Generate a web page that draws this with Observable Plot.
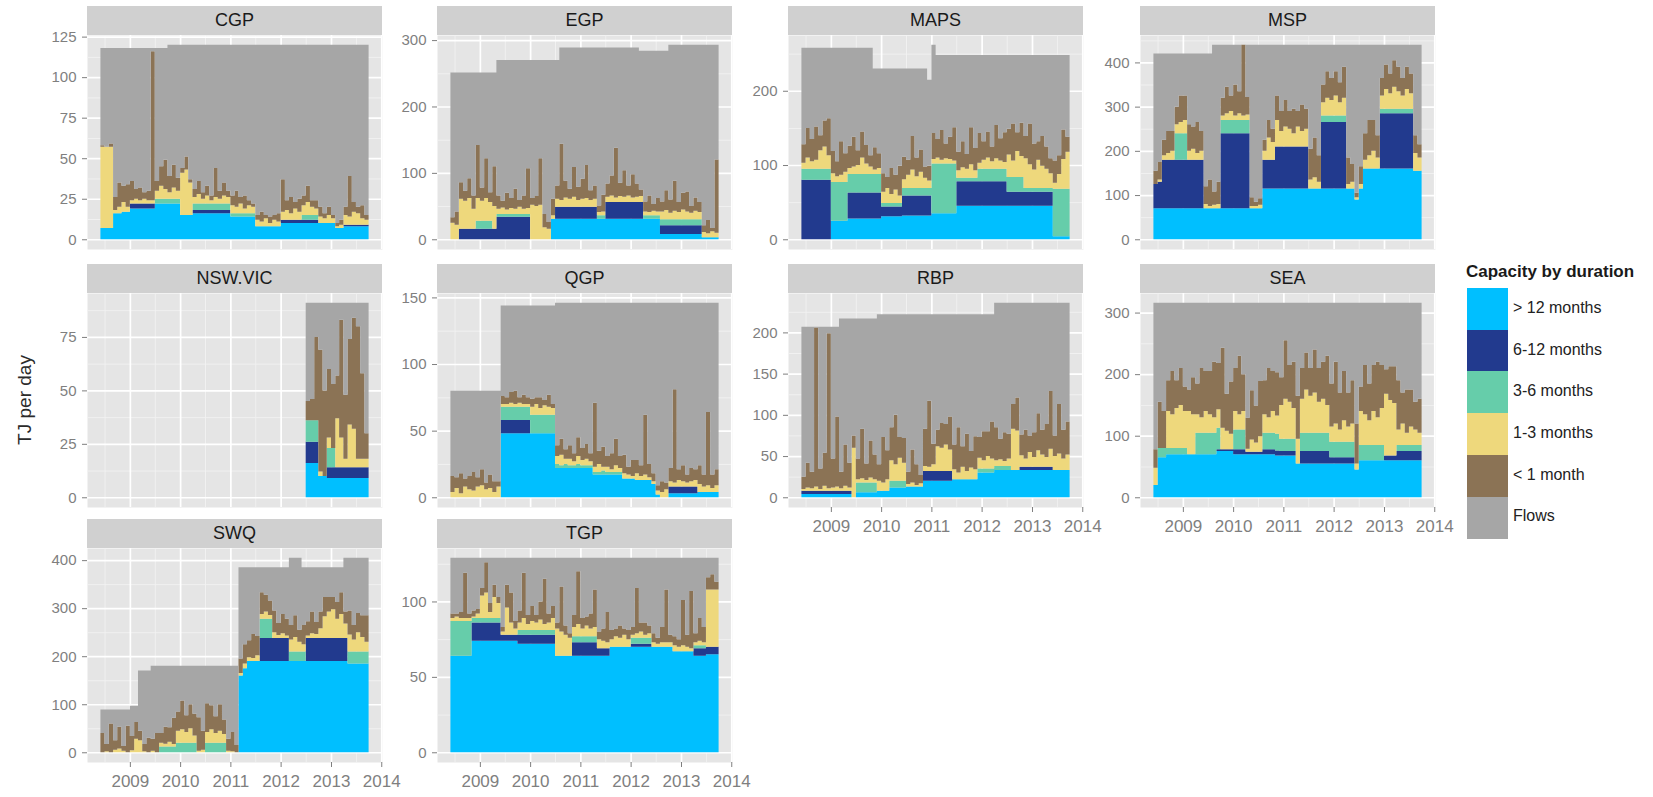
<!DOCTYPE html>
<html><head><meta charset="utf-8">
<script src="https://cdn.jsdelivr.net/npm/d3@7"></script>
<script src="https://cdn.jsdelivr.net/npm/@observablehq/plot@0.6"></script>
<style>
body{margin:0;background:#fff;font-family:"Liberation Sans",Arial,sans-serif;}
#chart{position:relative;width:1653px;height:797px;overflow:hidden;background:#fff;}
.panel{position:absolute;}
.strip{position:absolute;background:#D0D0D0;color:#1A1A1A;font-size:18px;text-align:center;}
.lkey{position:absolute;width:41px;}
.llab{position:absolute;font-size:16px;color:#222;}
</style></head><body><div id="chart"></div>
<script>
// ---------- data ----------
const categories = ["> 12 months","6-12 months","3-6 months","1-3 months","< 1 month","Flows"];
const colors = ["#00BFFF","#223A8E","#66CDAA","#EED87C","#8B7355","#A6A6A6"];
const xTickYears = [2009,2010,2011,2012,2013,2014];
// monthly values from June 2008 (index 0) to Sept 2013 (index 63)

const cgp_yticks = [0,25,50,75,100,125];
const cgp_cap = [118,118,118,118,118,118,118,118, 118,118,118,118,118,118,118,118, 120,120,120,120,120,120,120,120, 120,120,120,120,120,120,120,120, 120,120,120,120,120,120,120,120, 120,120,120,120,120,120,120,120, 120,120,120,120,120,120,120,120, 120,120,120,120,120,120,120,120];
const cgp_gt12 = [7,7,7,16,16,17,17,19, 19,19,19,19,19,22,22,22, 22,22,22,15,15,15,16,16, 16,16,16,16,16,16,16,14, 14,14,14,14,14,8,8,8, 8,8,8,10,10,10,10,10, 10,10,10,10,10,10,10,10, 7,7,8,8,8,8,8,8];
const cgp_m6_12 = [0,0,0,0,0,0,0,3, 3,3,3,3,3,0,0,0, 0,0,0,0,0,0,2,2, 2,2,2,2,2,2,2,0, 0,0,0,0,0,0,0,0, 0,0,0,2,2,2,2,2, 2,2,2,2,0,0,0,0, 0,0,1,1,1,1,1,1];
const cgp_m3_6 = [0,0,0,0,0,0,0,0, 0,0,0,0,0,3,3,3, 3,3,3,0,0,0,4,4, 4,4,4,4,4,4,4,2, 2,2,2,2,2,0,0,0, 0,0,0,0,0,0,0,0, 3,3,3,3,0,0,0,0, 0,0,0,0,0,0,0,0];
const cgp_m1_3 = [50,50,50,2,4,6,3,2, 3,2,3,2,2,5,8,6, 4,7,5,26,28,20,4,6, 3,5,2,4,3,5,4,5, 4,6,3,5,4,4,3,5, 2,4,3,5,6,4,7,5, 6,8,5,4,4,3,5,3, 1,2,6,5,8,7,4,3];
const cgp_lt1 = [1,0,2,8,15,10,14,12, 6,8,4,6,92,6,12,18, 10,14,8,3,8,2,5,8, 4,6,3,18,5,8,4,6, 10,4,8,3,2,3,6,2, 4,3,5,20,6,10,4,8, 6,10,4,5,6,3,5,2, 2,3,5,25,6,4,8,3];

const egp_yticks = [0,100,200,300];
const egp_cap = [251,251,251,251,251,251,251,251, 251,251,251,270,270,270,270,270, 270,270,270,270,270,270,270,270, 270,270,289,289,289,289,289,289, 289,289,289,289,289,289,289,289, 289,289,289,289,289,284,284,284, 284,284,284,284,293,293,293,293, 293,293,293,293,293,293,293,293];
const egp_gt12 = [0,0,0,0,0,0,0,0, 0,0,0,0,0,0,0,0, 0,0,0,0,0,0,0,0, 31,31,31,31,31,31,31,31, 31,31,31,31,31,31,31,31, 31,31,31,31,31,31,31,31, 31,31,8,8,8,8,8,8, 8,8,8,8,3,3,3,3];
const egp_m6_12 = [0,0,16,16,16,16,16,16, 16,16,16,34,34,34,34,34, 34,34,34,0,0,0,0,0, 0,18,18,18,18,18,18,18, 18,18,18,0,0,25,25,25, 25,25,25,25,25,25,0,0, 0,0,13,13,13,13,13,13, 13,13,13,13,0,0,0,0];
const egp_m3_6 = [0,0,0,0,0,0,12,12, 12,12,0,4,4,4,4,4, 4,4,4,0,0,0,0,0, 0,0,0,0,0,0,0,0, 0,0,0,5,5,0,0,0, 0,0,0,0,0,0,5,5, 5,5,9,9,9,9,9,9, 9,9,9,9,0,0,0,0];
const egp_m1_3 = [25,22,45,42,46,30,34,30, 34,28,34,8,10,7,9,8, 11,8,9,52,50,52,18,16, 5,12,10,14,12,15,10,12, 13,10,12,5,6,8,10,7, 9,8,10,7,8,9,6,5, 7,6,12,14,10,13,11,15, 12,10,13,11,8,6,9,7];
const egp_lt1 = [8,20,25,15,30,20,80,20, 60,15,60,20,10,25,15,30, 10,20,60,10,15,70,20,10, 25,20,85,25,15,45,20,30, 50,15,20,10,25,20,30,75, 20,40,15,35,20,10,15,25, 10,20,15,30,20,45,15,25, 30,10,20,15,10,20,5,110];

const maps_yticks = [0,100,200];
const maps_cap = [258,258,258,258,258,258,258,258, 258,258,258,258,258,258,258,258, 258,230,230,230,230,230,230,230, 230,230,230,230,230,230,215,262, 248,248,248,248,248,248,248,248, 248,248,248,248,248,248,248,248, 248,248,248,248,248,248,248,248, 248,248,248,248,248,248,248,248];
const maps_gt12 = [0,0,0,0,0,0,0,25, 25,25,25,28,28,28,28,28, 28,28,28,31,31,31,31,31, 32,32,32,32,32,32,32,35, 35,35,35,35,35,45,45,45, 45,45,45,45,45,45,45,45, 45,45,45,45,45,45,45,45, 45,45,45,45,4,4,4,4];
const maps_m6_12 = [80,80,80,80,80,80,80,0, 0,0,0,35,35,35,35,35, 35,35,35,13,13,13,13,13, 27,27,27,27,27,27,27,0, 0,0,0,0,0,33,33,33, 33,33,33,33,33,33,33,33, 33,19,19,19,19,19,19,19, 19,19,19,19,0,0,0,0];
const maps_m3_6 = [15,15,15,15,15,15,15,52, 52,52,52,25,25,25,25,25, 25,25,25,5,5,5,5,5, 10,10,10,10,10,10,10,67, 67,67,67,67,67,5,5,5, 5,5,17,17,17,17,17,17, 17,20,20,20,20,5,5,5, 5,5,5,5,64,64,64,64];
const maps_m1_3 = [8,15,10,12,25,30,18,12, 8,10,14,8,10,12,22,14, 10,6,8,15,20,12,18,10, 12,18,25,16,22,14,10,6, 8,5,7,6,4,10,14,12, 18,10,8,12,15,10,14,11, 9,30,22,35,28,40,32,25, 38,30,26,20,8,20,40,50];
const maps_lt1 = [25,40,30,45,20,35,50,30, 20,45,25,30,40,20,35,25, 15,30,20,25,15,35,20,40, 30,20,45,25,30,15,20,35, 25,40,20,30,45,25,35,20, 50,30,40,25,35,20,45,30, 40,35,50,25,45,30,55,35, 25,40,30,20,30,25,40,20];

const msp_yticks = [0,100,200,300,400];
const msp_cap = [420,420,420,420,420,420,420,420, 420,420,420,420,420,420,440,440, 440,440,440,440,440,440,440,440, 440,440,440,440,440,440,440,440, 440,440,440,440,440,440,440,440, 440,440,440,440,440,440,440,440, 440,440,440,440,440,440,440,440, 440,440,440,440,440,440,440,440];
const msp_gt12 = [70,70,70,70,70,70,70,70, 70,70,70,70,70,70,70,70, 70,70,70,70,70,70,70,70, 70,70,115,115,115,115,115,115, 115,115,115,115,115,115,115,115, 115,115,115,115,115,115,115,115, 90,115,160,160,160,160,160,160, 160,160,160,160,160,160,155,155];
const msp_m6_12 = [55,60,110,110,110,110,110,110, 110,110,110,110,0,0,0,0, 170,170,170,170,170,170,170,0, 0,0,65,65,65,95,95,95, 95,95,95,95,95,0,0,0, 150,150,150,150,150,150,0,0, 0,0,0,0,0,0,125,125, 125,125,125,125,125,125,0,0];
const msp_m3_6 = [0,0,0,0,0,60,60,60, 0,0,0,0,0,0,0,0, 30,30,30,30,30,30,30,0, 0,0,0,0,0,0,0,0, 0,0,0,0,0,0,0,0, 15,15,15,15,15,15,0,0, 0,0,0,0,0,0,10,10, 10,10,10,10,10,10,0,0];
const msp_m1_3 = [0,5,10,15,20,20,25,30, 20,25,15,20,10,5,8,10, 10,15,20,10,15,10,12,5, 5,8,20,50,40,60,35,45, 40,30,45,35,40,20,25,15, 30,40,35,45,30,40,10,15, 5,10,20,30,40,25,30,45, 35,50,40,30,45,35,40,30];
const msp_lt1 = [30,40,35,50,45,40,60,55, 60,50,70,45,40,60,30,50, 40,60,35,70,50,160,40,20, 10,15,25,40,30,55,45,60, 40,55,35,60,45,70,90,60, 40,60,50,55,45,70,60,40, 10,40,60,80,70,50,40,55, 45,60,55,40,50,45,40,30];

// NSW.VIC starts December 2012? no: starts at index 49 (July 2012)
const nsw_yticks = [0,25,50,75];
const nsw_cap = [91,91,91,91,91,91,91,91,91,91,91,91,91,91,91];
const nsw_gt12 = [16,16,16,10,10,9,9,9,9,9,9,9,9,9,9];
const nsw_m6_12 = [10,10,10,0,0,5,5,5,5,5,5,5,5,5,5];
const nsw_m3_6 = [10,10,10,0,0,9,9,0,0,0,0,0,0,0,0];
const nsw_m1_3 = [0,0,0,2,0,5,0,23,14,4,20,18,4,4,4];
const nsw_lt1 = [9,10,39,57,40,32,30,20,55,30,40,52,62,40,12];

const qgp_yticks = [0,50,100,150];
const qgp_cap = [80,80,80,80,80,80,80,80, 80,80,80,80,144,144,144,144, 144,144,144,144,144,144,144,144, 144,146,146,146,146,146,146,146, 146,146,146,146,146,146,146,146, 146,146,146,146,146,146,146,146, 146,146,146,146,146,146,146,146, 146,146,146,146,146,146,146,146];
const qgp_gt12 = [0,0,0,0,0,0,0,0, 0,0,0,0,48,48,48,48, 48,48,48,48,48,48,48,48, 48,22,22,22,22,22,22,22, 22,22,17,17,17,17,17,17, 17,14,14,14,13,13,13,13, 10,2,0,0,3,3,3,3, 3,3,3,4,4,4,4,4];
const qgp_m6_12 = [0,0,0,0,0,0,0,0, 0,0,0,0,10,10,10,10, 10,10,10,0,0,0,0,0, 0,0,0,0,0,0,0,0, 0,0,0,0,0,0,0,0, 0,0,0,0,0,0,0,0, 0,0,0,0,5,5,5,5, 5,5,5,0,0,0,0,0];
const qgp_m3_6 = [0,0,0,0,0,0,0,0, 0,0,0,0,10,10,10,10, 10,10,10,14,14,14,14,14, 14,3,2,3,2,2,3,2, 2,2,2,2,3,2,2,2, 2,0,0,0,0,0,0,0, 0,0,0,0,0,0,0,0, 0,0,0,0,0,0,0,0];
const qgp_m1_3 = [4,7,3,8,6,5,8,9, 6,7,4,8,2,2,3,2, 3,2,2,6,8,5,7,6, 5,6,8,4,5,3,6,4, 5,3,4,6,3,4,2,5, 3,4,3,2,5,3,4,2, 2,3,4,6,4,3,5,4, 3,4,5,6,4,5,3,5];
const qgp_lt1 = [12,8,15,6,10,14,7,12, 5,10,8,4,6,5,8,10, 4,7,5,6,5,8,4,9, 3,8,12,7,10,6,14,9, 11,6,48,10,15,8,12,20, 9,14,6,12,10,8,45,10, 6,4,8,5,10,70,8,12, 6,10,8,14,9,55,10,12];

const rbp_yticks = [0,50,100,150,200];
const rbp_cap = [207,207,207,207,207,207,207,207, 207,217,217,217,217,217,217,217, 217,217,222,222,222,222,222,222, 222,222,222,222,222,222,222,222, 222,222,222,222,222,222,222,222, 222,222,222,222,222,222,236,236, 236,236,236,236,236,236,236,236, 236,236,236,236,236,236,236,236];
const rbp_gt12 = [4,4,4,4,4,4,4,4, 4,4,4,4,0,6,6,6, 6,6,8,8,8,12,12,12, 12,13,13,13,13,20,20,20, 20,20,20,20,22,22,22,22, 22,22,30,30,30,30,33,33, 33,33,33,33,33,33,33,33, 33,33,33,33,33,33,33,33];
const rbp_m6_12 = [4,4,4,4,4,4,4,4, 4,4,4,4,0,0,0,0, 0,0,0,0,0,0,0,0, 0,0,0,0,0,12,12,12, 12,12,12,12,0,0,0,0, 0,0,0,0,0,0,0,0, 0,0,0,0,4,4,4,4, 4,4,4,4,0,0,0,0];
const rbp_m3_6 = [0,0,0,0,0,0,0,0, 0,0,0,0,0,12,12,12, 12,12,0,0,0,8,8,8, 8,0,0,0,0,0,0,0, 0,0,0,0,0,0,0,0, 0,0,5,5,5,5,5,5, 5,5,0,0,0,0,0,0, 0,0,0,0,0,0,0,0];
const rbp_m1_3 = [2,4,3,5,2,6,3,4, 5,3,6,4,60,4,5,3, 6,4,12,10,14,25,20,28, 22,3,5,2,4,6,5,8, 30,28,32,26,12,8,15,10, 14,12,13,10,15,12,7,8, 6,9,50,48,14,10,18,12, 20,15,12,22,17,20,14,19];
const rbp_lt1 = [15,30,20,193,25,40,188,35, 85,20,50,30,15,25,60,20, 45,30,20,55,35,40,60,25, 30,15,40,25,10,45,80,25, 20,30,25,40,30,55,25,45, 20,40,25,35,30,45,40,25, 35,30,30,40,25,35,20,30, 45,30,40,70,25,60,35,40];

const sea_yticks = [0,100,200,300];
const sea_cap = [316,316,316,316,316,316,316,316, 316,316,316,316,316,316,316,316, 316,316,316,316,316,316,316,316, 316,316,316,316,316,316,316,316, 316,316,316,316,316,316,316,316, 316,316,316,316,316,316,316,316, 316,316,316,316,316,316,316,316, 316,316,316,316,316,316,316,316];
const sea_gt12 = [20,65,65,70,70,70,70,70, 70,70,70,70,70,70,70,75, 75,75,75,70,70,70,70,70, 70,70,70,70,70,68,68,68, 68,68,55,55,55,55,55,55, 55,55,55,55,55,55,55,55, 45,60,60,60,60,60,60,60, 60,60,60,60,60,60,60,60];
const sea_m6_12 = [0,0,0,0,0,0,0,0, 0,0,0,0,0,0,0,3, 3,3,3,8,8,8,4,4, 4,4,8,8,8,8,7,7, 7,7,0,20,20,20,20,20, 20,20,10,10,10,10,10,10, 0,0,0,0,0,0,0,8, 8,8,15,15,15,15,15,15];
const sea_m3_6 = [0,15,15,10,10,10,10,10, 0,0,35,35,35,35,35,35, 0,0,0,32,32,32,0,0, 0,0,27,27,27,27,20,20, 20,20,0,30,30,30,30,30, 30,30,25,25,25,25,25,25, 0,25,25,25,25,25,25,0, 0,0,10,10,10,10,10,10];
const sea_m1_3 = [28,0,0,60,55,65,70,60, 70,65,30,25,35,30,25,30, 35,30,25,30,25,30,5,20, 15,25,30,25,35,30,55,65, 60,50,40,55,70,60,65,50, 55,45,25,30,20,35,25,30, 10,55,50,40,55,45,60,100, 90,85,25,35,20,30,25,20];
const sea_lt1 = [30,75,60,50,70,45,60,40, 35,60,50,80,65,70,90,75, 130,60,85,70,95,60,50,80, 60,90,55,80,65,70,45,95, 60,75,70,50,60,45,70,55, 60,80,70,100,60,80,55,70, 65,40,80,60,75,90,70,40, 55,60,80,50,70,60,45,55];

const swq_yticks = [0,100,200,300,400];
const swq_cap = [89,89,89,89,89,89,89,97, 97,170,170,170,180,180,180,180, 180,180,180,180,180,180,180,180, 180,180,180,180,180,180,180,180, 180,385,385,385,385,385,385,385, 385,385,385,385,385,405,405,405, 385,385,385,385,385,385,385,385, 385,385,405,405,405,405,405,405];
const swq_gt12 = [0,0,0,0,0,0,0,0, 0,0,0,0,0,0,0,0, 0,0,0,0,0,0,0,0, 0,0,0,0,0,0,0,0, 0,160,175,190,190,190,190,190, 190,190,190,190,190,190,190,190, 190,190,190,190,190,190,190,190, 190,190,190,185,185,185,185,185];
const swq_m6_12 = [0,0,0,0,0,0,0,0, 0,0,0,0,0,0,0,0, 0,0,0,0,0,0,0,0, 0,0,0,0,0,0,0,0, 0,0,0,0,0,0,48,48, 48,48,48,48,48,0,0,0, 0,48,48,48,48,48,48,48, 48,48,48,0,0,0,0,0];
const swq_m3_6 = [0,0,0,0,0,0,0,0, 0,0,0,0,0,0,12,12, 12,12,20,20,20,20,20,0, 0,20,20,20,20,20,0,0, 0,0,0,0,0,0,40,40, 40,0,0,0,0,20,20,20, 20,0,0,0,0,0,0,0, 0,0,0,25,25,25,25,25];
const swq_m1_3 = [0,2,0,5,8,3,0,4, 28,25,2,0,3,0,8,6, 10,5,25,28,22,30,15,3, 5,22,28,20,25,18,3,2, 0,5,10,8,6,12,10,15, 8,12,6,10,5,25,30,20, 15,5,10,8,20,45,55,60, 40,50,30,35,25,40,30,20];
const swq_lt1 = [40,15,60,20,45,10,55,30, 35,20,15,30,25,40,20,35, 30,55,40,60,35,50,45,70, 40,60,50,35,55,30,25,40, 15,30,40,35,50,40,45,35, 30,45,25,40,35,30,45,25, 40,30,45,25,35,40,30,25, 35,45,25,50,30,40,45,55];

const tgp_yticks = [0,50,100];
const tgp_cap = [129,129,129,129,129,129,129,129, 129,129,129,129,129,129,129,129, 129,129,129,129,129,129,129,129, 129,129,129,129,129,129,129,129, 129,129,129,129,129,129,129,129, 129,129,129,129,129,129,129,129, 129,129,129,129,129,129,129,129, 129,129,129,129,129,129,129,129];
const tgp_gt12 = [64,64,64,64,64,74,74,74, 74,74,74,74,74,74,74,74, 72,72,72,72,72,72,72,72, 72,64,64,64,64,64,64,64, 64,64,64,64,64,64,70,70, 70,70,70,70,70,70,70,70, 70,70,70,70,70,67,67,67, 67,67,64,64,64,65,65,65];
const tgp_m6_12 = [0,0,0,0,0,12,12,12, 12,12,12,12,4,4,4,4, 6,6,6,6,6,6,6,6, 6,0,0,0,0,9,9,9, 9,9,9,5,5,5,0,0, 0,0,0,2,2,2,2,2, 0,0,0,0,0,0,0,0, 0,0,5,5,5,5,5,5];
const tgp_m3_6 = [23,23,23,23,23,3,3,3, 3,3,3,3,0,0,0,0, 3,3,3,3,3,3,3,3, 3,0,0,0,0,4,4,4, 4,4,4,0,0,0,0,0, 0,0,0,4,4,4,4,4, 0,0,0,0,0,0,0,0, 0,0,2,2,2,0,0,0];
const tgp_m1_3 = [2,3,2,2,2,1,3,15, 17,4,14,10,2,18,8,4, 5,8,4,6,5,7,4,5, 8,18,16,14,12,6,8,5, 7,5,6,6,5,4,5,7, 6,8,5,2,3,4,2,3, 3,2,3,3,3,4,3,4, 3,2,2,3,2,38,38,38];
const tgp_lt1 = [3,2,4,30,3,4,3,5, 20,6,8,4,3,15,20,5, 8,30,6,10,5,12,30,6, 8,4,30,6,3,8,35,7, 6,10,25,5,8,20,6,5, 8,4,6,5,30,6,8,5, 6,4,10,35,5,6,5,30, 8,38,6,15,10,8,10,5];

// ---------- layout ----------
const panels = [
  {name:"CGP", row:0, col:0, xAxis:false, start:0, cap:cgp_cap, layers:[cgp_gt12,cgp_m6_12,cgp_m3_6,cgp_m1_3,cgp_lt1], yTicks:cgp_yticks},
  {name:"EGP", row:0, col:1, xAxis:false, start:0, cap:egp_cap, layers:[egp_gt12,egp_m6_12,egp_m3_6,egp_m1_3,egp_lt1], yTicks:egp_yticks},
  {name:"MAPS", row:0, col:2, xAxis:false, start:0, cap:maps_cap, layers:[maps_gt12,maps_m6_12,maps_m3_6,maps_m1_3,maps_lt1], yTicks:maps_yticks},
  {name:"MSP", row:0, col:3, xAxis:false, start:0, cap:msp_cap, layers:[msp_gt12,msp_m6_12,msp_m3_6,msp_m1_3,msp_lt1], yTicks:msp_yticks},
  {name:"NSW.VIC", row:1, col:0, xAxis:false, start:49, cap:nsw_cap, layers:[nsw_gt12,nsw_m6_12,nsw_m3_6,nsw_m1_3,nsw_lt1], yTicks:nsw_yticks},
  {name:"QGP", row:1, col:1, xAxis:false, start:0, cap:qgp_cap, layers:[qgp_gt12,qgp_m6_12,qgp_m3_6,qgp_m1_3,qgp_lt1], yTicks:qgp_yticks},
  {name:"RBP", row:1, col:2, xAxis:true, start:0, cap:rbp_cap, layers:[rbp_gt12,rbp_m6_12,rbp_m3_6,rbp_m1_3,rbp_lt1], yTicks:rbp_yticks},
  {name:"SEA", row:1, col:3, xAxis:true, start:0, cap:sea_cap, layers:[sea_gt12,sea_m6_12,sea_m3_6,sea_m1_3,sea_lt1], yTicks:sea_yticks},
  {name:"SWQ", row:2, col:0, xAxis:true, start:0, cap:swq_cap, layers:[swq_gt12,swq_m6_12,swq_m3_6,swq_m1_3,swq_lt1], yTicks:swq_yticks},
  {name:"TGP", row:2, col:1, xAxis:true, start:0, cap:tgp_cap, layers:[tgp_gt12,tgp_m6_12,tgp_m3_6,tgp_m1_3,tgp_lt1], yTicks:tgp_yticks}
];

const colLeft=[87,437,788,1140], rowTop=[35,293,548];
const plotW=295, plotH=214, mL=60, mR=14, mT=10, stripH=29;
const chartEl=document.getElementById("chart");
const t0=Date.UTC(2008,5,1), t1=Date.UTC(2013,9,1), span=t1-t0;
const xDomain=[new Date(t0-0.05*span), new Date(t1+0.05*span)];
const xTicks=xTickYears.map(y=>new Date(Date.UTC(y,0,1)));
const xMinor=xTickYears.map(y=>new Date(Date.UTC(y-1,6,1)));

for(const p of panels){
  const n=p.cap.length, rows=[]; let yMax=0;
  for(let i=0;i<=n;i++){
    const k=Math.min(i,n-1);
    const date=new Date(Date.UTC(2008,5+p.start+i,1));
    let s=0;
    p.layers.forEach((arr,j)=>{rows.push({date,cat:categories[j],value:arr[k]}); s+=arr[k];});
    rows.push({date,cat:categories[5],value:Math.max(0,p.cap[k]-s)});
    yMax=Math.max(yMax,s,p.cap[k]);
  }
  const yDom=[-0.05*yMax,1.05*yMax];
  const step=p.yTicks[1]-p.yTicks[0];
  const yMinor=p.yTicks.map(t=>t+step/2).filter(v=>v<yDom[1]);
  const mB=p.xAxis?44:6;
  const svg=Plot.plot({
    width:mL+plotW+mR, height:mT+plotH+mB,
    marginLeft:mL, marginRight:mR, marginTop:mT, marginBottom:mB,
    style:{background:"transparent", color:"#7F7F7F", fontFamily:"'Liberation Sans', Arial, sans-serif", fontSize:"15px", overflow:"visible"},
    x:{type:"utc", domain:xDomain, axis:null},
    y:{domain:yDom, axis:null},
    color:{domain:categories, range:colors},
    marks:[
      Plot.frame({fill:"#E5E5E5", stroke:"none"}),
      Plot.ruleY(yMinor,{stroke:"#F2F2F2", strokeWidth:0.9}),
      Plot.ruleX(xMinor,{stroke:"#F2F2F2", strokeWidth:0.9}),
      Plot.ruleY(p.yTicks,{stroke:"#FFFFFF", strokeWidth:1.7}),
      Plot.ruleX(xTicks,{stroke:"#FFFFFF", strokeWidth:1.7}),
      Plot.areaY(rows,{x:"date", y:"value", z:"cat", fill:"cat", order:categories, curve:"step-after"}),
      Plot.axisY(p.yTicks,{tickSize:5, tickPadding:6, fontSize:15, label:null}),
      p.xAxis ? Plot.axisX(xTicks,{tickSize:5, tickPadding:7, fontSize:17, tickFormat:"%Y", label:null}) : null
    ]
  });
  const wrap=document.createElement("div");
  wrap.className="panel";
  wrap.style.left=(colLeft[p.col]-mL)+"px";
  wrap.style.top=(rowTop[p.row]-mT)+"px";
  wrap.appendChild(svg);
  chartEl.appendChild(wrap);
  const strip=document.createElement("div");
  strip.className="strip";
  strip.style.left=colLeft[p.col]+"px";
  strip.style.top=(rowTop[p.row]-stripH)+"px";
  strip.style.width=plotW+"px";
  strip.style.height=stripH+"px";
  strip.style.lineHeight=stripH+"px";
  strip.textContent=p.name;
  chartEl.appendChild(strip);
}

// y-axis title
const yt=document.createElement("div");
yt.textContent="TJ per day";
yt.style.cssText="position:absolute;left:25px;top:400px;transform:translate(-50%,-50%) rotate(-90deg);font-size:19px;color:#2B2B2B;white-space:nowrap;";
chartEl.appendChild(yt);

// legend
const lt=document.createElement("div");
lt.textContent="Capacity by duration";
lt.style.cssText="position:absolute;left:1466px;top:262px;font-size:17px;font-weight:bold;color:#1A1A1A;white-space:nowrap;";
chartEl.appendChild(lt);
const keyH=41.7;
categories.forEach((c,i)=>{
  const k=document.createElement("div");
  k.className="lkey";
  k.style.left="1467px"; k.style.top=(288+i*keyH)+"px"; k.style.height=(keyH+0.5)+"px";
  k.style.background=colors[i];
  chartEl.appendChild(k);
  const l=document.createElement("div");
  l.className="llab";
  l.textContent=c;
  l.style.left="1513px"; l.style.top=(288+i*keyH+keyH/2-10)+"px";
  chartEl.appendChild(l);
});
</script></body></html>
